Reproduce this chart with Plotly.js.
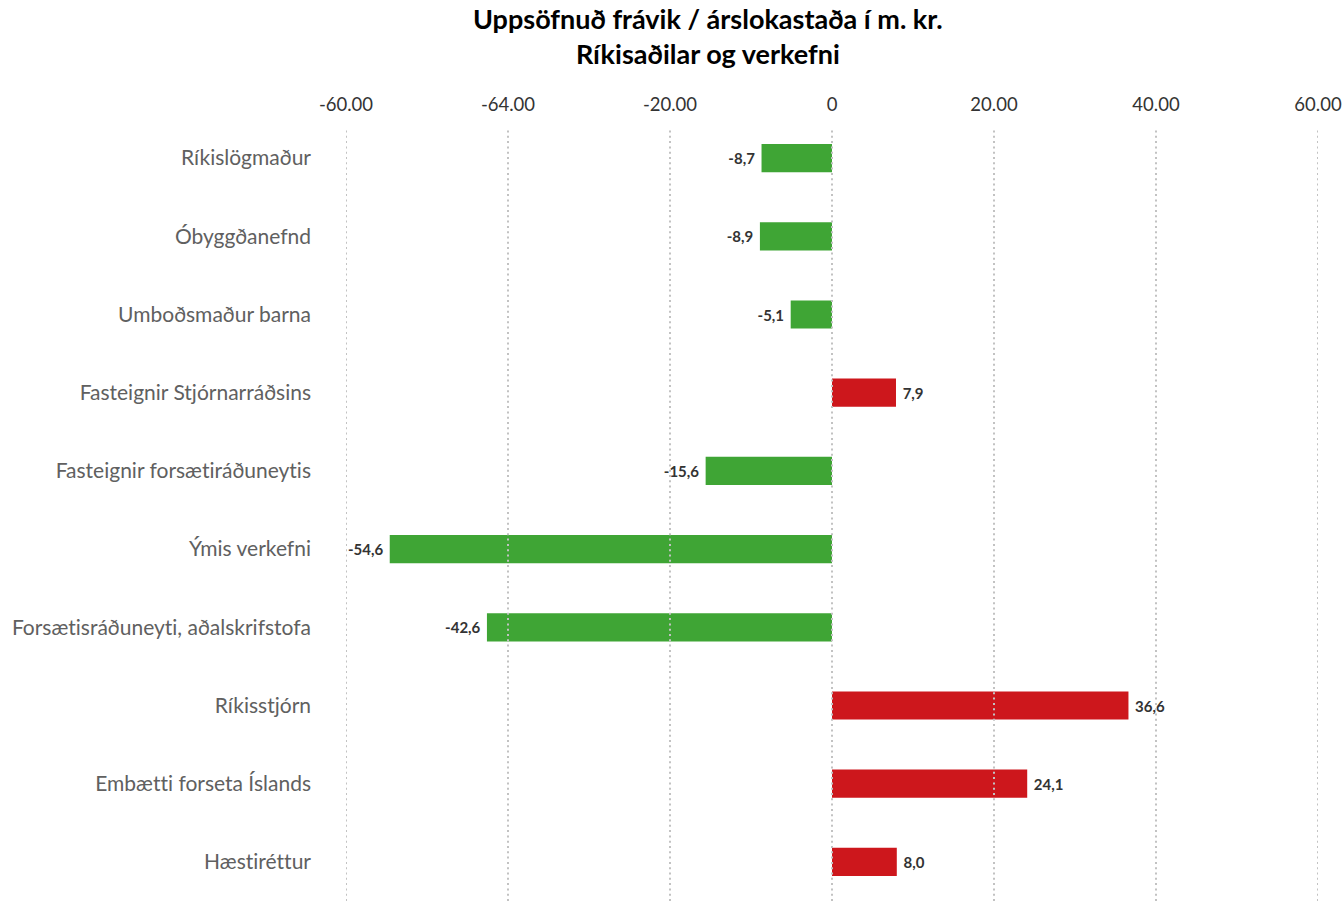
<!DOCTYPE html>
<html>
<head>
<meta charset="utf-8">
<script src="https://cdn.plot.ly/plotly-3.0.1.min.js"></script>
<style>html,body{margin:0;padding:0;background:#fff;}#chart{width:1343px;height:906px;}
#chart text{font-variant-ligatures:none;font-feature-settings:"liga" 0;}</style>
</head>
<body>
<div id="chart"></div>
<script>
var categories = [
  "Ríkislögmaður",
  "Óbyggðanefnd",
  "Umboðsmaður barna",
  "Fasteignir Stjórnarráðsins",
  "Fasteignir forsætiráðuneytis",
  "Ýmis verkefni",
  "Forsætisráðuneyti, aðalskrifstofa",
  "Ríkisstjórn",
  "Embætti forseta Íslands",
  "Hæstiréttur"
];
var values = [-8.7, -8.9, -5.1, 7.9, -15.6, -54.6, -42.6, 36.6, 24.1, 8.0];
var tickVals = [-60, -40, -20, 0, 20, 40, 60];
var tickText = ["-60.00", "-64.00", "-20.00", "0", "20.00", "40.00", "60.00"];
var titleLines = ["Uppsöfnuð frávik / árslokastaða í m. kr.", "Ríkisaðilar og verkefni"];

var GREEN = "#3fa535", RED = "#cd171c";
var FONT = "Lato, 'Open Sans', sans-serif";
var NB = "\u00a0";

var barColors = values.map(function(v){ return v < 0 ? GREEN : RED; });
var barText = values.map(function(v){
  var s = v.toFixed(1).replace('.', ',');
  return v < 0 ? s + NB : NB + s;
});

var trace = {
  type: "bar",
  orientation: "h",
  y: categories,
  x: values,
  marker: {color: barColors, line: {width: 0}},
  width: 0.36,
  text: barText,
  textposition: "outside",
  cliponaxis: false,
  textfont: {family: FONT, size: 15, color: "#333333", weight: 700},
  hoverinfo: "y+x"
};

var gridShapes = tickVals.map(function(v){
  return {
    type: "line", xref: "x", yref: "paper",
    x0: v, x1: v, y0: 0, y1: 0.988,
    line: {color: "#c2c2c2", width: 2, dash: "2px,3.3px"},
    layer: "above"
  };
});

var layout = {
  width: 1343,
  height: 906,
  margin: {l: 346, r: 25, t: 119, b: 5, pad: 0},
  paper_bgcolor: "#ffffff",
  plot_bgcolor: "#ffffff",
  showlegend: false,
  bargap: 0.64,
  annotations: [{
    text: "<b>" + titleLines[0] + "</b><br><b>" + titleLines[1] + "</b>",
    xref: "paper", yref: "paper",
    x: 0.3724, y: 1.106,
    xanchor: "center", yanchor: "middle",
    showarrow: false,
    font: {family: FONT, size: 27, color: "#000000"}
  }],
  xaxis: {
    side: "top",
    range: [-60, 60],
    tickvals: tickVals,
    ticktext: tickText,
    showgrid: false,
    zeroline: false,
    showline: false,
    ticks: "",
    ticklabelstandoff: 3,
    tickfont: {family: FONT, size: 18.5, color: "#333333"},
    fixedrange: true
  },
  yaxis: {
    autorange: "reversed",
    showgrid: false,
    zeroline: false,
    showline: false,
    ticks: "",
    ticklabelstandoff: 34,
    tickfont: {family: FONT, size: 21, color: "#606060"},
    fixedrange: true
  },
  shapes: gridShapes
};

Plotly.newPlot("chart", [trace], layout, {displayModeBar: false, responsive: false});
</script>
</body>
</html>
